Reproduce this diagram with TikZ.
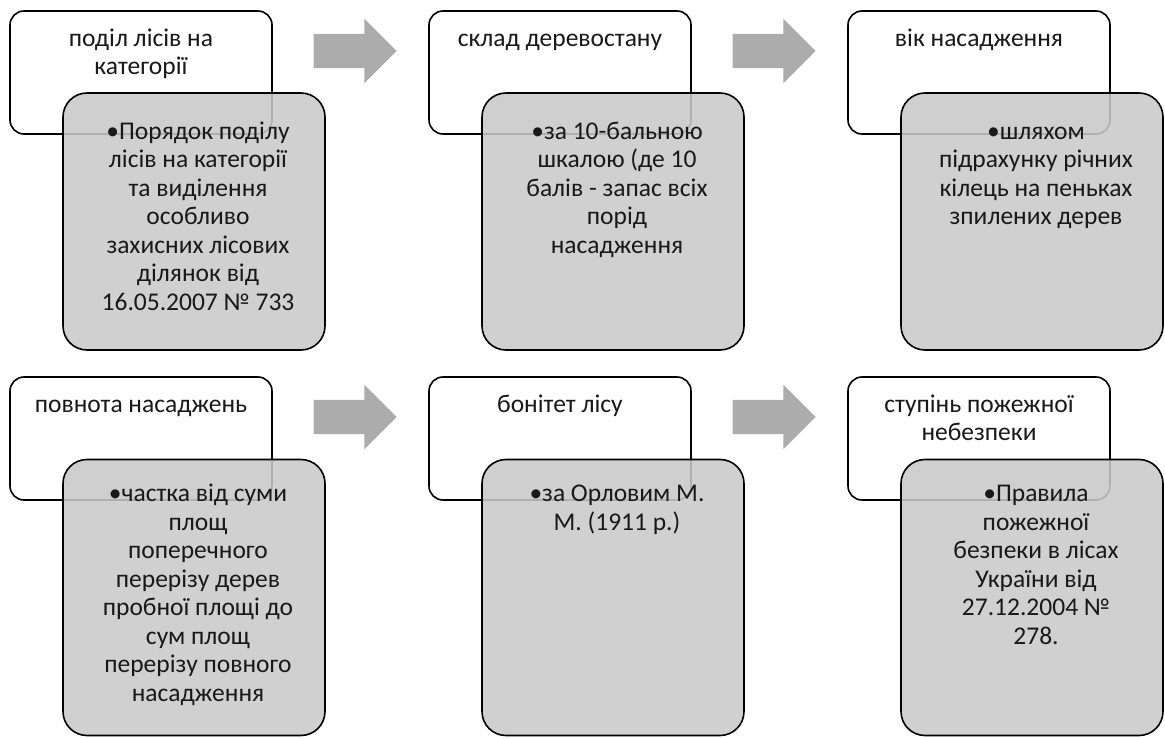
\documentclass[tikz,border=0pt]{standalone}
\usepackage{fontspec}
\setmainfont{Carlito}
\usepackage{tikz}
\usetikzlibrary{shapes.arrows}

\definecolor{notegray}{RGB}{201,201,201}
\definecolor{arrowgray}{RGB}{172,172,172}
\definecolor{txtgray}{RGB}{25,25,25}

\begin{document}
\begin{tikzpicture}[x=1pt,y=-1pt,
    headbox/.style={draw=black,line width=1.6pt,fill=white,rounded corners=14pt,
      minimum width=262pt,minimum height=123pt,inner sep=0pt},
    notebox/.style={draw=black,line width=1.6pt,fill=notegray,fill opacity=0.88,
      draw opacity=1,rounded corners=24pt,minimum width=262pt,inner sep=0pt},
    boxtxt/.style={anchor=north,align=center,inner sep=0pt,text=txtgray,
      font=\fontsize{25.5}{28.5}\selectfont},
    blockarrow/.style={single arrow,fill=arrowgray,draw=none,inner sep=0pt,
      text height=17pt,text depth=17pt,minimum height=83pt,
      single arrow head extend=15pt,single arrow tip angle=90},
  ]
  \useasboundingbox (0,0) rectangle (1165,738);

  % upper row
  \node[headbox] (head1) at (141,72.5) {};
  \node[headbox] (head2) at (560,72.5) {};
  \node[headbox] (head3) at (979,72.5) {};
  \node[boxtxt] (head1txt) at ([yshift=-17pt]head1.north)
    {\rule{0pt}{19pt}поділ лісів на\\ категорії};
  \node[boxtxt] (head2txt) at ([yshift=-17pt]head2.north)
    {\rule{0pt}{19pt}склад деревостану};
  \node[boxtxt] (head3txt) at ([yshift=-17pt]head3.north)
    {\rule{0pt}{19pt}вік насадження};

  \node[notebox,minimum height=257pt] (note1) at (194,221.5) {};
  \node[notebox,minimum height=257pt] (note2) at (613,221.5) {};
  \node[notebox,minimum height=257pt] (note3) at (1032,221.5) {};
  \node[boxtxt] (note1txt) at ([xshift=4pt,yshift=-28pt]note1.north)
    {\rule{0pt}{19pt}•Порядок поділу\\ лісів на категорії\\ та виділення\\ особливо\\
     захисних лісових\\ ділянок від\\ 16.05.2007 № 733};
  \node[boxtxt] (note2txt) at ([xshift=4pt,yshift=-28pt]note2.north)
    {\rule{0pt}{19pt}•за 10-бальною\\ шкалою (де 10\\ балів - запас всіх\\ порід\\ насадження};
  \node[boxtxt] (note3txt) at ([xshift=4pt,yshift=-28pt]note3.north)
    {\rule{0pt}{19pt}•шляхом\\ підрахунку річних\\ кілець на пеньках\\ зпилених дерев};

  \node[blockarrow] (arr1) at (346.5,51) {};
  \node[blockarrow] (arr2) at (765.5,51) {};

  % lower row
  \node[headbox] (head4) at (141,438.5) {};
  \node[headbox] (head5) at (560,438.5) {};
  \node[headbox] (head6) at (979,438.5) {};
  \node[boxtxt] (head4txt) at ([yshift=-17pt]head4.north)
    {\rule{0pt}{19pt}повнота насаджень};
  \node[boxtxt] (head5txt) at ([yshift=-17pt]head5.north)
    {\rule{0pt}{19pt}бонітет лісу};
  \node[boxtxt] (head6txt) at ([yshift=-17pt]head6.north)
    {\rule{0pt}{19pt}ступінь пожежної\\ небезпеки};

  \node[notebox,minimum height=276pt] (note4) at (194,597.5) {};
  \node[notebox,minimum height=276pt] (note5) at (613,597.5) {};
  \node[notebox,minimum height=276pt] (note6) at (1032,597.5) {};
  \node[boxtxt] (note4txt) at ([xshift=4pt,yshift=-24pt]note4.north)
    {\rule{0pt}{19pt}•частка від суми\\ площ\\ поперечного\\ перерізу дерев\\
     пробної площі до\\ сум площ\\ перерізу повного\\ насадження};
  \node[boxtxt] (note5txt) at ([xshift=4pt,yshift=-24pt]note5.north)
    {\rule{0pt}{19pt}•за Орловим М.\\ М. (1911 р.)};
  \node[boxtxt] (note6txt) at ([xshift=4pt,yshift=-24pt]note6.north)
    {\rule{0pt}{19pt}•Правила\\ пожежної\\ безпеки в лісах\\ України від\\ 27.12.2004 №\\ 278.};

  \node[blockarrow] (arr3) at (346.5,417) {};
  \node[blockarrow] (arr4) at (765.5,417) {};
\end{tikzpicture}
\end{document}
